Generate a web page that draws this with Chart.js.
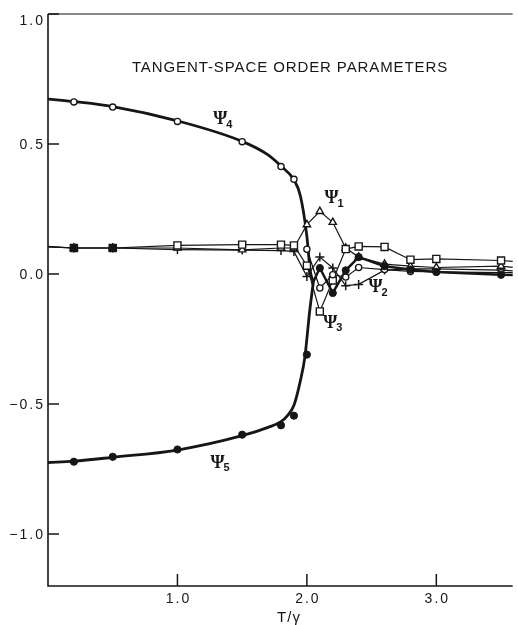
<!DOCTYPE html>
<html><head><meta charset="utf-8">
<script src="https://cdn.jsdelivr.net/npm/chart.js@4.4.1/dist/chart.umd.min.js"></script>
<style>html,body{margin:0;padding:0;background:#fff}#wrap{width:518px;height:625px}</style>
</head><body><div id="wrap"><canvas id="c" width="518" height="625"></canvas></div>
<script>
// ---- data ----
const temps = [0.2, 0.5, 1.0, 1.5, 1.8, 1.9, 2.0, 2.1, 2.2, 2.3, 2.4, 2.6, 2.8, 3.0, 3.5];
const psi1 = [0.100, 0.100, 0.100, 0.093, 0.100, 0.100, 0.190, 0.241, 0.199, 0.100, 0.065, 0.038, 0.030, 0.025, 0.030];
const psi2 = [0.100, 0.100, 0.094, 0.092, 0.090, 0.087, -0.010, 0.065, 0.023, -0.045, -0.040, 0.015, 0.020, 0.020, 0.015];
const psi3 = [0.100, 0.100, 0.110, 0.113, 0.113, 0.110, 0.032, -0.144, -0.025, 0.096, 0.106, 0.104, 0.055, 0.058, 0.052];
const psi4 = [0.662, 0.642, 0.587, 0.509, 0.413, 0.364, 0.095, -0.054, -0.003, -0.012, 0.025, 0.017, 0.010, 0.008, 0.005];
const psi5 = [-0.722, -0.703, -0.675, -0.618, -0.582, -0.545, -0.310, 0.023, -0.073, 0.014, 0.065, 0.030, 0.017, 0.008, -0.003];

// where the connecting lines meet the left axis / leave the right edge
const edgeT = [0, 3.6];
const psi1Edge = [0.104, 0.025];
const psi2Edge = [0.104, 0.012];
const psi3Edge = [0.106, 0.048];
const psi4Edge = [null, 0.005];
const psi5Edge = [null, -0.004];

// smooth theoretical curves (thick lines)
const fitT4 = [0, 0.2, 0.5, 1.0, 1.5, 1.7, 1.8, 1.9, 1.95, 2.0, 2.025, 2.05];
const fitV4 = [0.673, 0.663, 0.644, 0.589, 0.510, 0.458, 0.415, 0.362, 0.300, 0.145, 0.015, -0.030];
const fitT5 = [0, 0.2, 0.5, 1.0, 1.5, 1.7, 1.8, 1.85, 1.9, 1.95, 1.985, 2.02, 2.05];
const fitV5 = [-0.725, -0.720, -0.705, -0.677, -0.622, -0.590, -0.568, -0.545, -0.505, -0.410, -0.318, -0.150, -0.030];

const xTicks = [1.0, 2.0, 3.0];
const xTickLabels = ['1.0', '2.0', '3.0'];
const yTicks = [-1.0, -0.5, 0.0, 0.5, 1.0];
const yTickLabels = ['\u22121.0', '\u22120.5', '0.0', '0.5', '1.0'];
const titleText = 'TANGENT-SPACE ORDER PARAMETERS';
const xTitle = 'T/\u03b3';
const psiLabels = [
  {sub: '1', t: 2.19, v: 0.290},
  {sub: '2', t: 2.53, v: -0.053},
  {sub: '3', t: 2.18, v: -0.188},
  {sub: '4', t: 1.33, v: 0.593},
  {sub: '5', t: 1.31, v: -0.727}
];
// temperatures where several markers pile up into a solid blob
const blobTemps = [0.2, 0.5];

// ---- build datasets ----
const pts = (ts, vs) => ts.map((t, i) => ({x: t, y: vs[i]}));
const withEdges = (vals, edge) => [{x: edgeT[0], y: edge[0]}, ...pts(temps, vals), {x: edgeT[1], y: edge[1]}];
const INK = '#161616';
const edgeRadius = r => ctx => (ctx.dataIndex === 0 || ctx.dataIndex === temps.length + 1) ? 0 : r;
const blobFill = ctx => (ctx.raw && blobTemps.includes(ctx.raw.x)) ? INK : '#fff';

const datasets = [
  {label: 'Ψ5 pts', data: pts(temps, psi5), showLine: false, pointStyle: 'circle', pointRadius: 3.6,
   pointBackgroundColor: INK, pointBorderColor: INK, pointBorderWidth: 1},
  {label: 'Ψ4 pts', data: pts(temps, psi4), showLine: false, pointStyle: 'circle', pointRadius: 3.1,
   pointBackgroundColor: '#fff', pointBorderColor: INK, pointBorderWidth: 1.3},
  {label: 'Ψ3', data: withEdges(psi3, psi3Edge), showLine: true, borderColor: INK, borderWidth: 1.2,
   pointStyle: 'rect', pointRadius: edgeRadius(5), pointBackgroundColor: blobFill, pointBorderColor: INK, pointBorderWidth: 1.4},
  {label: 'Ψ1', data: withEdges(psi1, psi1Edge), showLine: true, borderColor: INK, borderWidth: 1.2,
   pointStyle: 'triangle', pointRadius: edgeRadius(4.2), pointBackgroundColor: blobFill, pointBorderColor: INK, pointBorderWidth: 1.4},
  {label: 'Ψ2', data: withEdges(psi2, psi2Edge), showLine: true, borderColor: INK, borderWidth: 1.2,
   pointStyle: 'cross', pointRadius: edgeRadius(4.5), pointBorderColor: INK, pointBorderWidth: 1.5},
  {label: 'Ψ5 line', data: [{x: fitT5[fitT5.length - 1], y: fitV5[fitV5.length - 1]}, ...pts(temps.slice(7), psi5.slice(7)), {x: edgeT[1], y: psi5Edge[1]}],
   showLine: true, borderColor: INK, borderWidth: 2.5, pointRadius: 0},
  {label: 'Ψ4 line', data: [...pts(temps.slice(6), psi4.slice(6)), {x: edgeT[1], y: psi4Edge[1]}],
   showLine: true, borderColor: INK, borderWidth: 1.2, pointRadius: 0},
  {label: 'Ψ4 fit', data: pts(fitT4, fitV4), showLine: true, borderColor: INK, borderWidth: 2.8,
   pointRadius: 0, cubicInterpolationMode: 'monotone'},
  {label: 'Ψ5 fit', data: pts(fitT5, fitV5), showLine: true, borderColor: INK, borderWidth: 2.8,
   pointRadius: 0, cubicInterpolationMode: 'monotone'}
];

const SANS = '"Liberation Sans", Arial, sans-serif';
const SERIF = '"Liberation Serif", "DejaVu Serif", serif';

const deco = {
  id: 'deco',
  beforeDraw(chart) {
    const {ctx, width, height} = chart;
    ctx.save(); ctx.fillStyle = '#fff'; ctx.fillRect(0, 0, width, height); ctx.restore();
  },
  afterDraw(chart) {
    const {ctx, chartArea: a, scales: {x, y}} = chart;
    ctx.save();
    ctx.strokeStyle = INK; ctx.fillStyle = INK;
    // frame: left, bottom (heavier) and top
    ctx.lineWidth = 1.6;
    ctx.beginPath(); ctx.moveTo(a.left, a.top); ctx.lineTo(a.left, a.bottom); ctx.lineTo(a.right, a.bottom); ctx.stroke();
    ctx.lineWidth = 1.1;
    ctx.beginPath(); ctx.moveTo(a.left, a.top); ctx.lineTo(a.right, a.top); ctx.stroke();
    // inward tick marks
    ctx.lineWidth = 1.5;
    yTicks.forEach(v => { const py = y.getPixelForValue(v); ctx.beginPath(); ctx.moveTo(a.left, py); ctx.lineTo(a.left + 11, py); ctx.stroke(); });
    xTicks.forEach(v => { const px = x.getPixelForValue(v); ctx.beginPath(); ctx.moveTo(px, a.bottom); ctx.lineTo(px, a.bottom - 12); ctx.stroke(); });
    // y tick labels
    ctx.font = '14px ' + SANS;
    ctx.letterSpacing = '2px';
    ctx.textAlign = 'right'; ctx.textBaseline = 'middle';
    yTicks.forEach((v, i) => {
      let py = y.getPixelForValue(v);
      if (i === yTicks.length - 1) py += 6;
      ctx.fillText(yTickLabels[i], a.left - 3, py + 1);
    });
    // x tick labels
    ctx.textAlign = 'center';
    xTicks.forEach((v, i) => ctx.fillText(xTickLabels[i], x.getPixelForValue(v) + 1, a.bottom + 13));
    // x axis title
    ctx.letterSpacing = '1px';
    ctx.font = '15px ' + SANS;
    ctx.fillText(xTitle, 289, a.bottom + 32);
    // chart title
    ctx.font = '15px ' + SANS;
    ctx.letterSpacing = '0.9px';
    ctx.fillText(titleText, 290, 68);
    ctx.letterSpacing = '0px';
    // Ψ labels
    psiLabels.forEach(l => {
      const px = x.getPixelForValue(l.t), py = y.getPixelForValue(l.v);
      ctx.font = 'bold 18px ' + SERIF;
      ctx.textAlign = 'center';
      ctx.fillText('\u03a8', px, py);
      ctx.font = 'bold 11px ' + SANS;
      ctx.textAlign = 'left';
      ctx.fillText(l.sub, px + 6, py + 5);
    });
    ctx.restore();
  }
};

new Chart(document.getElementById('c'), {
  type: 'scatter',
  data: {datasets},
  options: {
    responsive: false, animation: false, devicePixelRatio: 1,
    layout: {padding: {top: 14, right: 0, left: 0, bottom: 0}},
    plugins: {legend: {display: false}, tooltip: {enabled: false}},
    scales: {
      x: {type: 'linear', min: 0, max: 3.59,
          grid: {display: false, drawTicks: false}, border: {display: false}, ticks: {display: false},
          afterFit(s) { s.height = 39; }},
      y: {type: 'linear', min: -1.2, max: 1.0,
          grid: {display: false, drawTicks: false}, border: {display: false}, ticks: {display: false},
          afterFit(s) { s.width = 48; }}
    }
  },
  plugins: [deco]
});
</script>
</body></html>
